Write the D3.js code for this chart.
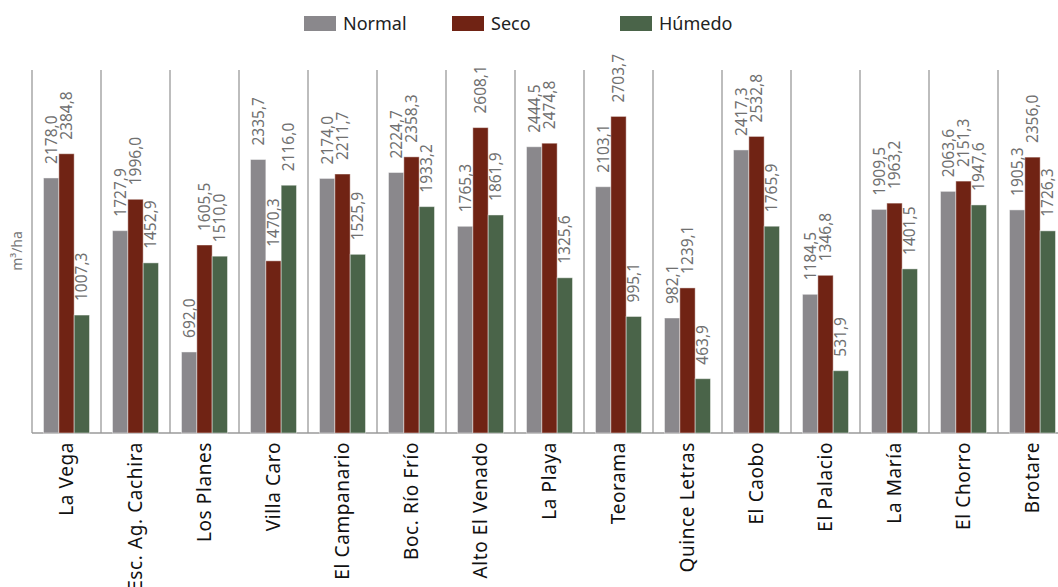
<!DOCTYPE html>
<html>
<head>
<meta charset="utf-8">
<script src="https://cdn.jsdelivr.net/npm/d3@7"></script>
<style>
  html, body { margin: 0; padding: 0; background: #fff; }
  svg { display: block; font-family: "Noto Sans", "Open Sans", sans-serif; }
</style>
</head>
<body>
<svg id="chart" width="1058" height="587"></svg>
<script>
// Stations (categories)
const stations = [
  "La Vega", "Esc. Ag. Cachira", "Los Planes", "Villa Caro", "El Campanario",
  "Boc. Río Frío", "Alto El Venado", "La Playa", "Teorama", "Quince Letras",
  "El Caobo", "El Palacio", "La María", "El Chorro", "Brotare"
];

// Series names
const seriesNames = ["Normal", "Seco", "Húmedo"];

// Values in m³/ha per station
const normal = [2178.0, 1727.9, 692.0, 2335.7, 2174.0, 2224.7, 1765.3, 2444.5, 2103.1, 982.1, 2417.3, 1184.5, 1909.5, 2063.6, 1905.3];
const seco   = [2384.8, 1996.0, 1605.5, 1470.3, 2211.7, 2358.3, 2608.1, 2474.8, 2703.7, 1239.1, 2532.8, 1346.8, 1963.2, 2151.3, 2356.0];
const humedo = [1007.3, 1452.9, 1510.0, 2116.0, 1525.9, 1933.2, 1861.9, 1325.6, 995.1, 463.9, 1765.9, 531.9, 1401.5, 1947.6, 1726.3];

const seriesColors = ["#8a888c", "#702314", "#4a6449"];

const yTitle = "m³/ha";

const seriesValues = [normal, seco, humedo];
const rows = stations.map((s, i) => ({
  station: s,
  values: seriesNames.map((n, k) => ({ key: n, value: seriesValues[k][i] }))
}));

const svg = d3.select("#chart");

const plotLeft = 32, bandStep = 69, plotTop = 70, plotBottom = 433;

const x = d3.scaleBand()
  .domain(stations)
  .range([plotLeft, plotLeft + bandStep * stations.length])
  .paddingInner(0).paddingOuter(0);

const xs = d3.scaleBand()
  .domain(seriesNames)
  .range([0, x.bandwidth()])
  .paddingInner(0).paddingOuter(0.75);

const y = d3.scaleLinear().domain([0, 3100]).range([plotBottom, plotTop]);

const color = d3.scaleOrdinal().domain(seriesNames).range(seriesColors);

const fmt = d3.formatLocale({ decimal: ",", thousands: ".", grouping: [3], currency: ["", ""] }).format(".1f");

// Band separators
svg.append("g")
  .selectAll("line")
  .data(stations)
  .join("line")
  .attr("x1", d => x(d)).attr("x2", d => x(d))
  .attr("y1", plotTop).attr("y2", plotBottom)
  .attr("stroke", "#9a9a9a").attr("stroke-width", 1.3);

// Baseline
svg.append("line")
  .attr("x1", plotLeft).attr("x2", x.range()[1])
  .attr("y1", plotBottom).attr("y2", plotBottom)
  .attr("stroke", "#9a9a9a").attr("stroke-width", 1.3);

// Bars
const groups = svg.append("g")
  .selectAll("g")
  .data(rows)
  .join("g")
  .attr("transform", d => `translate(${x(d.station)},0)`);

groups.selectAll("rect")
  .data(d => d.values)
  .join("rect")
  .attr("x", d => xs(d.key))
  .attr("width", xs.bandwidth())
  .attr("y", d => y(d.value))
  .attr("height", d => y(0) - y(d.value))
  .attr("fill", d => color(d.key))
  .attr("stroke", "#ffffff").attr("stroke-opacity", 0.45).attr("stroke-width", 1);

// Value labels, rotated above each bar
groups.selectAll("text")
  .data(d => d.values)
  .join("text")
  .attr("transform", d => `translate(${xs(d.key) + xs.bandwidth() / 2},${y(d.value) - 14}) rotate(-90)`)
  .attr("dy", "0.35em")
  .attr("text-anchor", "start")
  .attr("font-size", 15.5)
  .attr("fill", "#707070")
  .text(d => fmt(d.value));

// Category labels
svg.append("g")
  .selectAll("text")
  .data(stations)
  .join("text")
  .attr("transform", d => `translate(${x(d) + x.bandwidth() / 2},${plotBottom + 9}) rotate(-90)`)
  .attr("dy", "0.35em")
  .attr("text-anchor", "end")
  .attr("font-size", 19)
  .attr("letter-spacing", 0.6)
  .attr("fill", "#111")
  .text(d => d);

// Y-axis title
svg.append("text")
  .attr("transform", `translate(22,251) rotate(-90)`)
  .attr("text-anchor", "middle")
  .attr("font-size", 14)
  .attr("fill", "#777")
  .text(yTitle);

// Legend
const legendX = [304, 452, 620];
const legend = svg.append("g")
  .selectAll("g")
  .data(seriesNames)
  .join("g")
  .attr("transform", (d, i) => `translate(${legendX[i]},16)`);

legend.append("rect")
  .attr("width", 32).attr("height", 15)
  .attr("fill", d => color(d));

legend.append("text")
  .attr("x", 39).attr("y", 8)
  .attr("dy", "0.35em")
  .attr("font-size", 18)
  .attr("fill", "#222")
  .text(d => d);
</script>
</body>
</html>
